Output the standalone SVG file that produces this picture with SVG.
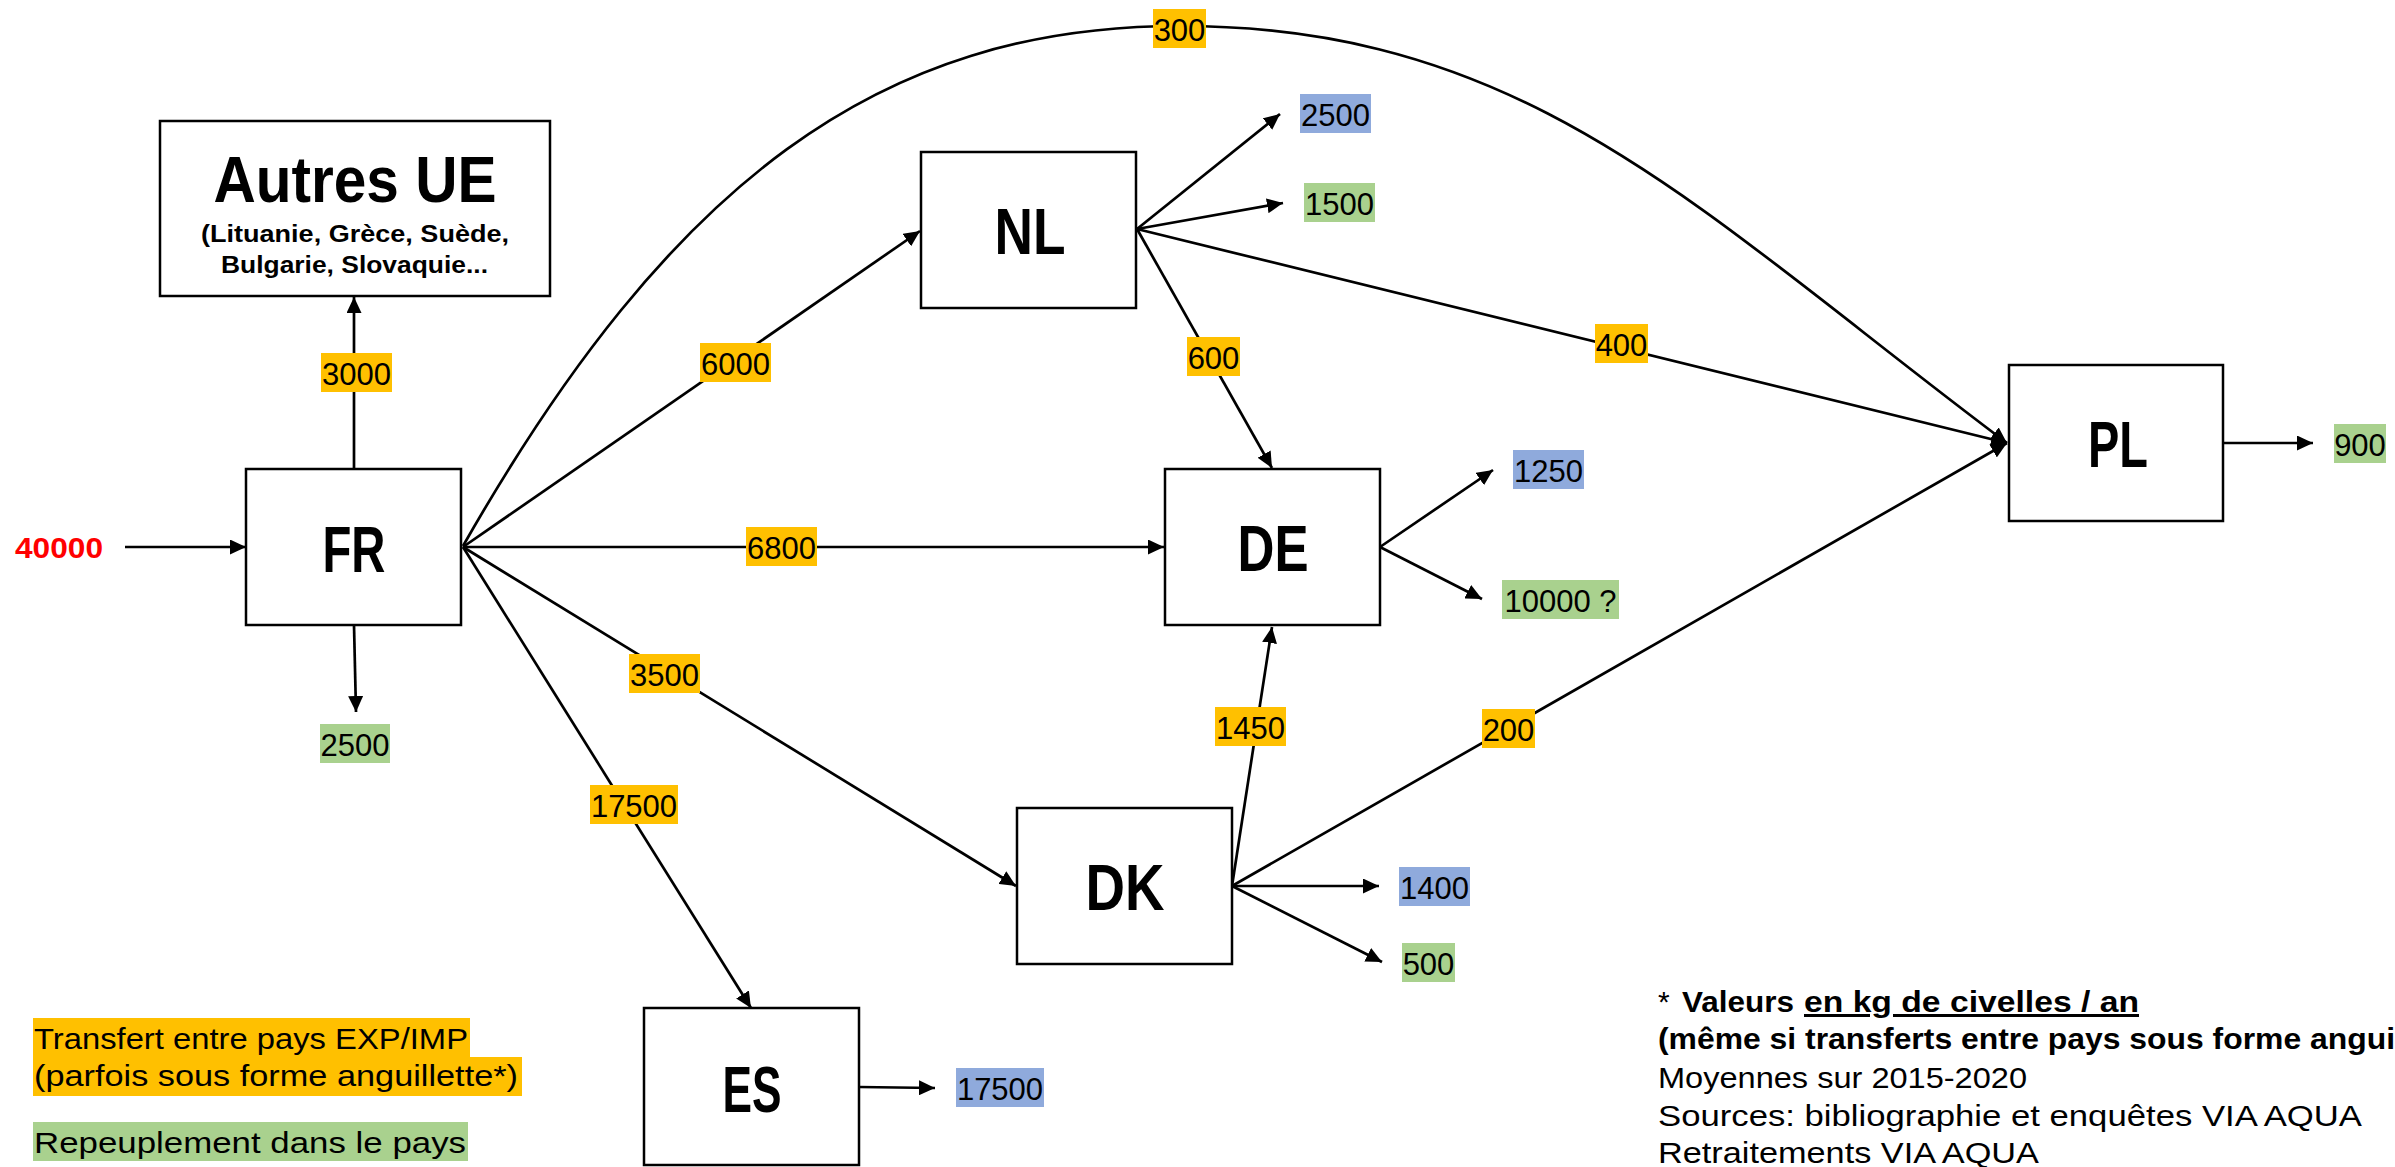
<svg xmlns="http://www.w3.org/2000/svg" width="2395" height="1167" viewBox="0 0 2395 1167">
<style>
.box{fill:#fff;stroke:#000;stroke-width:2.5}
.nt{font-family:"Liberation Sans",Arial,sans-serif;font-weight:bold;font-size:64px;text-anchor:middle;fill:#000}
.sub{font-family:"Liberation Sans",Arial,sans-serif;font-weight:bold;font-size:24px;fill:#000}
.lbl{font-family:"Liberation Sans",Arial,sans-serif;font-size:31px;text-anchor:middle;fill:#000}
.txt{font-family:"Liberation Sans",Arial,sans-serif;font-size:30px;fill:#000}
.bold{font-weight:bold}
.y{fill:#FFC000}.g{fill:#A9D18E}.b{fill:#8FAADC}
.edge{fill:none;stroke:#000;stroke-width:2.7;marker-end:url(#ah)}
</style>
<defs>
<marker id="ah" markerUnits="userSpaceOnUse" markerWidth="16" markerHeight="15" refX="16" refY="7.5" orient="auto">
<path d="M0,0 L16,7.5 L0,15 z" fill="#000"/>
</marker>
</defs>
<rect width="2395" height="1167" fill="#fff"/>

<g id="connectors">
<line class="edge" x1="125" y1="547" x2="246" y2="547"/>
<line class="edge" x1="354" y1="469" x2="354" y2="297"/>
<line class="edge" x1="354" y1="625" x2="356" y2="712"/>
<line class="edge" x1="463" y1="547" x2="920" y2="231"/>
<line class="edge" x1="463" y1="547" x2="1164" y2="547"/>
<line class="edge" x1="463" y1="547" x2="1016" y2="886"/>
<line class="edge" x1="463" y1="547" x2="751" y2="1008"/>
<path class="edge" d="M463,546 C671,181 880,26 1180,26 C1530,26 1700,213 2007,443"/>
<line class="edge" x1="1137" y1="229" x2="1280" y2="114"/>
<line class="edge" x1="1137" y1="229" x2="1283" y2="203"/>
<line class="edge" x1="1137" y1="229" x2="1272" y2="468"/>
<line class="edge" x1="1137" y1="229" x2="2007" y2="443"/>
<line class="edge" x1="1380" y1="547" x2="1493" y2="470"/>
<line class="edge" x1="1380" y1="547" x2="1482" y2="599"/>
<line class="edge" x1="1232" y1="886" x2="1272" y2="627"/>
<line class="edge" x1="1232" y1="886" x2="2007" y2="443"/>
<line class="edge" x1="1232" y1="886" x2="1379" y2="886"/>
<line class="edge" x1="1232" y1="886" x2="1382" y2="962"/>
<line class="edge" x1="859" y1="1087" x2="935" y2="1088"/>
<line class="edge" x1="2223" y1="443" x2="2313" y2="443"/>
</g>

<g id="edge-labels">
<g id="e-3000"><rect class="y" x="321" y="353" width="71" height="39"/><text class="lbl" x="356.5" y="385">3000</text></g>
<g id="e-6000"><rect class="y" x="700" y="343" width="71" height="39"/><text class="lbl" x="735.5" y="375">6000</text></g>
<g id="e-6800"><rect class="y" x="746" y="527" width="71" height="39"/><text class="lbl" x="781.5" y="559">6800</text></g>
<g id="e-3500"><rect class="y" x="629" y="654" width="71" height="39"/><text class="lbl" x="664.5" y="686">3500</text></g>
<g id="e-17500"><rect class="y" x="590" y="785" width="88" height="39"/><text class="lbl" x="634" y="817">17500</text></g>
<g id="e-300"><rect class="y" x="1153" y="9" width="53" height="39"/><text class="lbl" x="1179.5" y="41">300</text></g>
<g id="e-600"><rect class="y" x="1187" y="337" width="53" height="39"/><text class="lbl" x="1213.5" y="369">600</text></g>
<g id="e-400"><rect class="y" x="1595" y="324" width="53" height="39"/><text class="lbl" x="1621.5" y="356">400</text></g>
<g id="e-1450"><rect class="y" x="1215" y="707" width="71" height="39"/><text class="lbl" x="1250.5" y="739">1450</text></g>
<g id="e-200"><rect class="y" x="1482" y="709" width="53" height="39"/><text class="lbl" x="1508.5" y="741">200</text></g>
</g>

<g id="node-input"><text x="15" y="558" font-family="Liberation Sans, Arial, sans-serif" font-weight="bold" font-size="30" fill="#FF0000" textLength="88" lengthAdjust="spacingAndGlyphs">40000</text></g>

<g id="node-autres-ue">
<rect class="box" x="160" y="121" width="390" height="175"/>
<text class="nt" x="355" y="202" textLength="283" lengthAdjust="spacingAndGlyphs">Autres UE</text>
<text class="sub" x="201" y="242" textLength="308" lengthAdjust="spacingAndGlyphs">(Lituanie, Grèce, Suède,</text>
<text class="sub" x="221" y="273" textLength="267" lengthAdjust="spacingAndGlyphs">Bulgarie, Slovaquie...</text>
</g>
<g id="node-fr"><rect class="box" x="246" y="469" width="215" height="156"/><text class="nt" x="354" y="572" textLength="63" lengthAdjust="spacingAndGlyphs">FR</text></g>
<g id="node-nl"><rect class="box" x="921" y="152" width="215" height="156"/><text class="nt" x="1030" y="254" textLength="71" lengthAdjust="spacingAndGlyphs">NL</text></g>
<g id="node-de"><rect class="box" x="1165" y="469" width="215" height="156"/><text class="nt" x="1273" y="571" textLength="71" lengthAdjust="spacingAndGlyphs">DE</text></g>
<g id="node-dk"><rect class="box" x="1017" y="808" width="215" height="156"/><text class="nt" x="1125" y="910" textLength="79" lengthAdjust="spacingAndGlyphs">DK</text></g>
<g id="node-es"><rect class="box" x="644" y="1008" width="215" height="157"/><text class="nt" x="752" y="1112" textLength="59" lengthAdjust="spacingAndGlyphs">ES</text></g>
<g id="node-pl"><rect class="box" x="2009" y="365" width="214" height="156"/><text class="nt" x="2118" y="467" textLength="60" lengthAdjust="spacingAndGlyphs">PL</text></g>

<g id="out-fr-2500"><rect class="g" x="320" y="724" width="70" height="39"/><text class="lbl" x="355" y="756">2500</text></g>
<g id="out-nl-2500"><rect class="b" x="1300" y="94" width="71" height="39"/><text class="lbl" x="1335.5" y="126">2500</text></g>
<g id="out-nl-1500"><rect class="g" x="1304" y="183" width="71" height="39"/><text class="lbl" x="1339.5" y="215">1500</text></g>
<g id="out-de-1250"><rect class="b" x="1513" y="450" width="71" height="39"/><text class="lbl" x="1548.5" y="482">1250</text></g>
<g id="out-de-10000"><rect class="g" x="1502" y="580" width="117" height="39"/><text class="lbl" x="1560.5" y="612">10000 ?</text></g>
<g id="out-dk-1400"><rect class="b" x="1399" y="867" width="71" height="39"/><text class="lbl" x="1434.5" y="899">1400</text></g>
<g id="out-dk-500"><rect class="g" x="1402" y="943" width="53" height="39"/><text class="lbl" x="1428.5" y="975">500</text></g>
<g id="out-es-17500"><rect class="b" x="956" y="1068" width="88" height="39"/><text class="lbl" x="1000" y="1100">17500</text></g>
<g id="out-pl-900"><rect class="g" x="2334" y="424" width="52" height="39"/><text class="lbl" x="2360" y="456">900</text></g>

<g id="legend">
<rect class="y" x="33" y="1018" width="437" height="39"/>
<rect class="y" x="33" y="1057" width="489" height="39"/>
<rect class="g" x="33" y="1122" width="435" height="39"/>
<text class="txt" x="34" y="1049" textLength="434" lengthAdjust="spacingAndGlyphs">Transfert entre pays EXP/IMP</text>
<text class="txt" x="34" y="1086" textLength="484" lengthAdjust="spacingAndGlyphs">(parfois sous forme anguillette*)</text>
<text class="txt" x="34" y="1153" textLength="432" lengthAdjust="spacingAndGlyphs">Repeuplement dans le pays</text>
</g>

<g id="notes">
<text class="txt" x="1658" y="1012">*</text>
<text class="txt bold" x="1682" y="1012" textLength="112" lengthAdjust="spacingAndGlyphs">Valeurs</text>
<text class="txt bold" x="1804" y="1012" textLength="335" lengthAdjust="spacingAndGlyphs" text-decoration="underline">en kg de civelles / an</text>
<text class="txt bold" x="1658" y="1049" textLength="737" lengthAdjust="spacingAndGlyphs">(même si transferts entre pays sous forme angui</text>
<text class="txt" x="1658" y="1088" textLength="369" lengthAdjust="spacingAndGlyphs">Moyennes sur 2015-2020</text>
<text class="txt" x="1658" y="1126" textLength="704" lengthAdjust="spacingAndGlyphs">Sources: bibliographie et enquêtes VIA AQUA</text>
<text class="txt" x="1658" y="1163" textLength="381" lengthAdjust="spacingAndGlyphs">Retraitements VIA AQUA</text>
</g>
</svg>
